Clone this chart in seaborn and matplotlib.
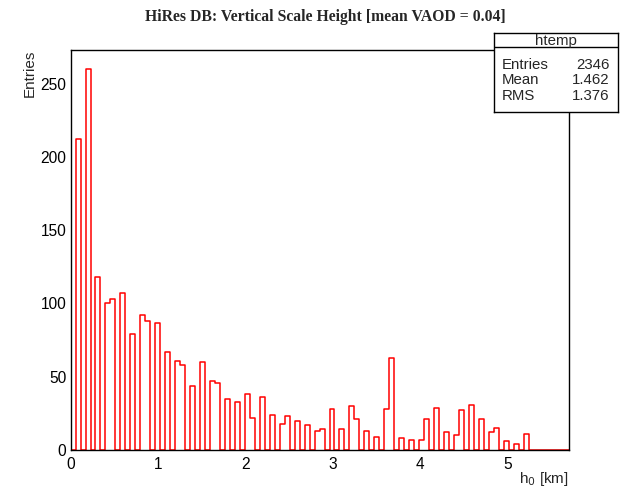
import numpy as np
import pandas as pd
import matplotlib
matplotlib.use("Agg")
import matplotlib.pyplot as plt
from matplotlib.ticker import MultipleLocator
import seaborn as sns

# ---- data ----
n_bins = 100
x_max = 5.7
h0_bin = [1, 3, 5, 7, 8, 10, 12, 14, 15, 17, 19, 21, 22, 24, 26, 28, 29, 31, 33,
          35, 36, 38, 40, 42, 43, 45, 47, 49, 50, 52, 54, 56, 57, 59, 61, 63, 64,
          66, 68, 70, 71, 73, 75, 77, 78, 80, 82, 84, 85, 87, 89, 91]
entries = [212, 260, 118, 100, 103, 107, 79, 92, 88, 87, 67, 61, 58, 44, 60, 47, 46,
           35, 33, 38, 22, 36, 24, 18, 23, 20, 17, 13, 14, 28, 14, 30, 21, 13, 9,
           28, 63, 8, 7, 7, 21, 29, 12, 10, 27, 31, 21, 12, 15, 6, 4, 11]
x_ticks = [0, 1, 2, 3, 4, 5]
y_ticks = [0, 50, 100, 150, 200, 250]
title = "HiRes DB: Vertical Scale Height [mean VAOD = 0.04]"
stats_name = "htemp"
stats_rows = [("Entries", "2346"), ("Mean", "1.462"), ("RMS", "1.376")]

edges = np.linspace(0, x_max, n_bins + 1)
centers = 0.5 * (edges[:-1] + edges[1:])
df = pd.DataFrame({"h0": centers[h0_bin], "n": entries})

sns.set_style("white")
plt.rcParams["font.family"] = ["Liberation Sans", "DejaVu Sans"]

W, H = 625, 488
fig = plt.figure(figsize=(W / 100, H / 100), dpi=100)
L, R, T, B = 70.6, 568.5, 50, 450
ax = fig.add_axes([L / W, 1 - B / H, (R - L) / W, (B - T) / H])

sns.histplot(data=df, x="h0", weights="n", bins=n_bins, binrange=(0, x_max),
             element="step", fill=False, color="#ff0000", linewidth=1.1, ax=ax)

ax.set_xlim(0, x_max)
ax.set_ylim(0, 273)
ax.set_xticks(x_ticks)
ax.set_yticks(y_ticks)
ax.xaxis.set_minor_locator(MultipleLocator(0.2))
ax.yaxis.set_minor_locator(MultipleLocator(10))
ax.tick_params(axis="both", which="both", direction="in", top=False, right=False,
               colors="black", labelsize=11.2, width=1)
ax.tick_params(axis="x", which="major", length=9, pad=5)
ax.tick_params(axis="x", which="minor", length=4.5)
ax.tick_params(axis="y", which="major", length=10, pad=3)
ax.tick_params(axis="y", which="minor", length=5)
for s in ax.spines.values():
    s.set_visible(True)
    s.set_color("black")
    s.set_linewidth(1)

ax.set_xlabel(r"h$_{0}$ [km]", fontsize=11, loc="right")
ax.set_ylabel("Entries", fontsize=11, loc="top")
ax.xaxis.set_label_coords(1.0, -0.05)
ax.yaxis.set_label_coords(-0.067, 1.0)

fig.text(0.52, 1 - 17 / H, title, ha="center", va="center",
         fontsize=11.3, fontweight="bold", family=["Liberation Serif", "DejaVu Serif"])

# stats box
bx0, bx1, by0, by1 = 494, 618.3, 33.3, 111.7
sax = fig.add_axes([bx0 / W, 1 - by1 / H, (bx1 - bx0) / W, (by1 - by0) / H])
sax.set_zorder(5)
sax.set_xlim(0, 1)
sax.set_ylim(0, 1)
sax.set_xticks([])
sax.set_yticks([])
sax.set_facecolor("white")
for s in sax.spines.values():
    s.set_visible(True)
    s.set_color("black")
    s.set_linewidth(1)
sax.axhline(0.829, color="black", linewidth=1)
sax.text(0.5, 0.9, stats_name, ha="center", va="center", fontsize=10.8)
for (k, v), yy in zip(stats_rows, [0.60, 0.405, 0.20]):
    sax.text(0.062, yy, k, ha="left", va="center", fontsize=10.8)
    sax.text(0.93, yy, v, ha="right", va="center", fontsize=10.8)

fig.savefig("out.png", dpi=100, facecolor="white")
